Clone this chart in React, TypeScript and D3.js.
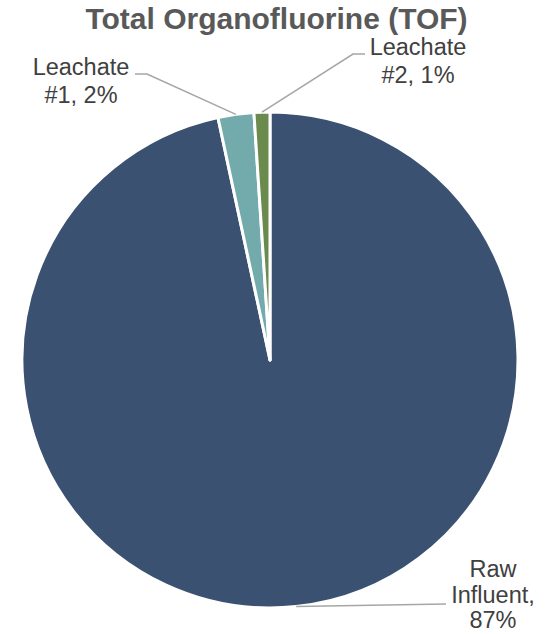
import React from "react";
import * as d3 from "d3";

const categories = ["Raw Influent", "Leachate #1", "Leachate #2"];
const values = [87, 2.1, 0.93];
const percentLabels = [87, 2, 1];
const colors = ["#3A5172", "#73AAAC", "#6A8A4E"];
const title = "Total Organofluorine (TOF)";

const W = 551;
const H = 634;
const cx = 270;
const cy = 360;
const R = 248;

// label layout: text block anchor (center x, first baseline), elbow point
const labelLayout = [
  { lines: ["Raw", "Influent,", "{p}"], tx: 493, ty: 577, dy: 25.5, elbow: [446, 604] },
  { lines: ["Leachate", "#1, {p}"], tx: 81, ty: 75, dy: 28, elbow: [147, 74], start: [135, 74] },
  { lines: ["Leachate", "#2, {p}"], tx: 418, ty: 55, dy: 28, elbow: [353, 54], start: [365, 54] },
];

export default function App() {
  const data = categories.map((c, i) => ({ name: c, value: values[i], pct: percentLabels[i] }));
  const pie = d3.pie<any>().value((d) => d.value).sort(null).startAngle(0).endAngle(2 * Math.PI);
  const arcs = pie(data);
  const arcGen = d3.arc<any>().innerRadius(0).outerRadius(R);

  return (
    <svg width={W} height={H} style={{ position: "absolute", left: 0, top: 0 }}>
      <rect width={W} height={H} fill="#ffffff" />
      <text
        x={276.5}
        y={29}
        textAnchor="middle"
        fontFamily="Liberation Sans, Arial, sans-serif"
        fontWeight="bold"
        fontSize={30}
        fill="#595959"
      >
        {title}
      </text>
      <g transform={`translate(${cx},${cy})`}>
        {arcs.map((a, i) => (
          <path key={i} d={arcGen(a) as string} fill={colors[i]} stroke="#ffffff" strokeWidth={3} strokeLinejoin="round" />
        ))}
      </g>
      {arcs.map((a, i) => {
        const mid = (a.startAngle + a.endAngle) / 2;
        const px = cx + R * Math.sin(mid);
        const py = cy - R * Math.cos(mid);
        const L = labelLayout[i];
        const pts: [number, number][] = L.start
          ? [L.start as [number, number], L.elbow as [number, number], [px, py]]
          : [[px, py], L.elbow as [number, number]];
        return (
          <g key={i}>
            <polyline
              points={pts.map((p) => p.join(",")).join(" ")}
              fill="none"
              stroke="#A6A6A6"
              strokeWidth={1.5}
            />
            <text
              textAnchor="middle"
              fontFamily="Liberation Sans, Arial, sans-serif"
              fontSize={23.5}
              fill="#404040"
            >
              {L.lines.map((ln, j) => (
                <tspan key={j} x={L.tx} y={L.ty + j * L.dy}>
                  {ln.replace("{p}", `${a.data.pct}%`)}
                </tspan>
              ))}
            </text>
          </g>
        );
      })}
    </svg>
  );
}
